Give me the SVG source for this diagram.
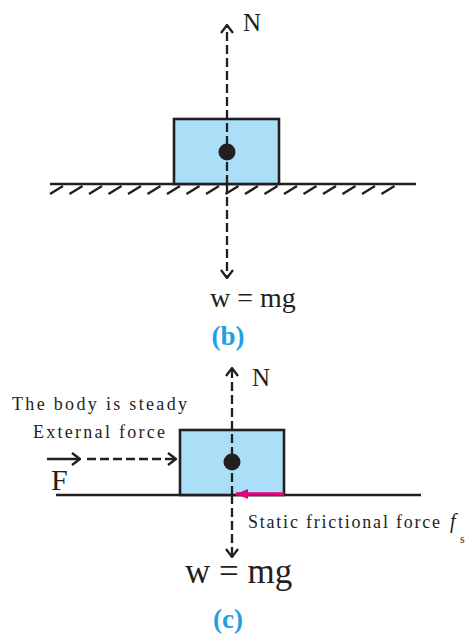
<svg xmlns="http://www.w3.org/2000/svg" width="468" height="635" viewBox="0 0 468 635">
<style>
.t{font-family:"Liberation Serif","Times New Roman",serif;fill:#231f20}
.lbl{font-family:"Liberation Serif","Times New Roman",serif;font-weight:bold;fill:#1ea0e2}
.block{fill:#abdff8;stroke:#231f20;stroke-width:2.6}
.ground{stroke:#231f20;stroke-width:2.6;fill:none}
.hatch{stroke:#231f20;stroke-width:2.4;fill:none}
.dash{stroke:#231f20;stroke-width:2.3;stroke-dasharray:9 4;fill:none}
.solid{stroke:#231f20;stroke-width:2.3;fill:none}
.mk{stroke:#231f20;stroke-width:2.3;fill:none;stroke-dasharray:none}
</style>
<defs>
<marker id="open" viewBox="0 0 10 14" refX="9" refY="7" markerWidth="10" markerHeight="14" markerUnits="userSpaceOnUse" orient="auto">
<path class="mk" d="M1,1 L9,7 L1,13"/>
</marker>
<marker id="pink" viewBox="0 0 12 10" refX="12" refY="5" markerWidth="12" markerHeight="10" markerUnits="userSpaceOnUse" orient="auto">
<path d="M0,0 L12,5 L0,10 Z" fill="#e5007d"/>
</marker>
</defs>

<!-- Part (b) -->
<g id="ground-b">
<line class="ground" x1="50" y1="184" x2="416" y2="184"/>
<path class="hatch" d="M50,194 l13,-8 M69.5,194 l13,-8 M89,194 l13,-8 M108.5,194 l13,-8 M128,194 l13,-8 M147.5,194 l13,-8 M167,194 l13,-8 M186.5,194 l13,-8 M206,194 l13,-8 M225.5,194 l13,-8 M245,194 l13,-8 M264.5,194 l13,-8 M284,194 l13,-8 M303.5,194 l13,-8 M323,194 l13,-8 M342.5,194 l13,-8 M362,194 l13,-8 M381.5,194 l13,-8"/>
</g>
<g id="block-b">
<rect class="block" x="174" y="119" width="105" height="65"/>
</g>
<g id="connectors-b">
<line class="dash" x1="227" y1="184" x2="227" y2="25" marker-end="url(#open)"/>
<line class="dash" x1="227" y1="184" x2="227" y2="278" marker-end="url(#open)"/>
</g>
<g id="dot-b"><circle cx="227" cy="152" r="8.5" fill="#231f20"/></g>
<g id="label-N-b"><text class="t" x="243" y="31" font-size="25">N</text></g>
<g id="label-w-b"><text class="t" x="210" y="307" font-size="28">w = mg</text></g>
<g id="label-b"><text class="lbl" x="228" y="345" font-size="27" text-anchor="middle">(b)</text></g>

<!-- Part (c) -->
<g id="ground-c"><line class="ground" x1="56" y1="495" x2="421" y2="495"/></g>
<g id="block-c"><rect class="block" x="180" y="430" width="104" height="65"/></g>
<g id="connectors-c">
<line class="dash" x1="232" y1="495" x2="232" y2="368" marker-end="url(#open)"/>
<line class="dash" x1="232" y1="495" x2="232" y2="557" marker-end="url(#open)"/>
<line class="dash" x1="87" y1="459" x2="176" y2="459" marker-end="url(#open)"/>
<line x1="284" y1="494" x2="236" y2="494" stroke="#e5007d" stroke-width="3.5" marker-end="url(#pink)"/>
</g>
<g id="dot-c"><circle cx="232" cy="462" r="8.5" fill="#231f20"/></g>
<g id="label-N-c"><text class="t" x="252" y="386" font-size="25">N</text></g>
<g id="label-steady"><text class="t" x="12" y="410" font-size="18" textLength="175" lengthAdjust="spacing">The body is steady</text></g>
<g id="label-external"><text class="t" x="33" y="438" font-size="18" textLength="132" lengthAdjust="spacing">External force</text></g>
<g id="label-F">
<line class="solid" x1="47" y1="459" x2="80" y2="459" marker-end="url(#open)"/>
<text class="t" x="51" y="490" font-size="30">F</text>
</g>
<g id="label-static">
<text class="t" x="248" y="528" font-size="18" textLength="192" lengthAdjust="spacing">Static frictional force</text>
<text class="t" x="450" y="528" font-size="20" font-style="italic">f</text>
<text class="t" x="460" y="543" font-size="12">s</text>
</g>
<g id="label-w-c"><text class="t" x="185" y="583" font-size="35">w = mg</text></g>
<g id="label-c"><text class="lbl" x="228" y="628" font-size="27" text-anchor="middle">(c)</text></g>
</svg>
